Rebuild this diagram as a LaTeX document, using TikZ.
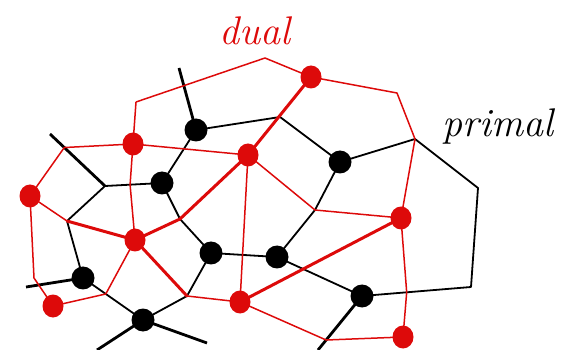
\documentclass[tikz,border=0pt]{standalone}
\usetikzlibrary{shapes.geometric,calc}
\definecolor{dualred}{RGB}{221,10,10}
\begin{document}
\begin{tikzpicture}[x=1pt,y=-1pt,
 primal/.style={line width=1.8pt,black,line join=round},
 stubline/.style={line width=2.8pt,black},
 dualthin/.style={line width=1.5pt,dualred,line join=round},
 dualthick/.style={line width=3pt,dualred,line join=round,line cap=round},
 bdot/.style={circle,fill=black,minimum size=23pt,inner sep=0pt},
 rdot/.style={ellipse,fill=dualred,minimum width=21pt,minimum height=23pt,inner sep=0pt},
 lbl/.style={font=\fontsize{40}{41}\selectfont\itshape,anchor=base,inner sep=0pt}]
\useasboundingbox (0,0) rectangle (563,350);
% primal vertices
\coordinate (b1) at (196,130);
\coordinate (b2) at (162,183);
\coordinate (b3) at (340,162);
\coordinate (b4) at (211,253);
\coordinate (b5) at (277,257);
\coordinate (b6) at (83,278);
\coordinate (b7) at (143,320);
\coordinate (b8) at (362,296);
\coordinate (p1) at (280,117);
\coordinate (p2) at (415,139);
\coordinate (p3) at (478,188);
\coordinate (p4) at (471,287);
\coordinate (p5) at (315,210);
\coordinate (p6) at (180,219);
\coordinate (p7) at (187,296);
\coordinate (p8) at (67,221);
\coordinate (p9) at (105,186);
\coordinate (s1) at (179,68);
\coordinate (s2) at (50,134);
\coordinate (s3) at (26,287);
\coordinate (s4) at (97,350);
\coordinate (s5) at (207,343);
\coordinate (s6) at (318,350);
% dual vertices
\coordinate (r1) at (311,77);
\coordinate (r2) at (133,144);
\coordinate (r3) at (248,155);
\coordinate (r4) at (30,196);
\coordinate (r5) at (135,240);
\coordinate (r6) at (401,218);
\coordinate (r7) at (53,306);
\coordinate (r8) at (240,302);
\coordinate (r9) at (403,337);
\coordinate (q1) at (136,102);
\coordinate (q2) at (265,58);
\coordinate (q3) at (397,93);
\coordinate (q5) at ($(p4)!0.59!(b8)$);
\coordinate (q6) at ($(b8)!0.815!(s6)$);
\coordinate (q8) at ($(s2)!0.26!(p9)$);
\coordinate (q9) at (34,278);
\coordinate (q10) at ($(b6)!0.38!(b7)$);
\coordinate (q11) at ($(p9)!0.44!(b2)$);
% primal edges
\draw[primal] (b1) -- (p1) -- (b3) -- (p2) -- (p3) -- (p4) -- (b8) -- (b5) -- (b4) -- (p6) -- (b2) -- (b1);
\draw[primal] (b2) -- (p9) -- (p8) -- (b6) -- (b7) -- (p7) -- (b4);
\draw[primal] (b3) -- (p5) -- (b5);
\draw[stubline] (b1) -- (s1);
\draw[stubline] (p9) -- (s2);
\draw[stubline] (b6) -- (s3);
\draw[stubline] (b7) -- (s4);
\draw[stubline] (b7) -- (s5);
\draw[stubline] (b8) -- (s6);
% dual edges
\draw[dualthin] (q1) -- (q2) -- (r1) -- (q3) -- (p2) -- (r6) -- (q5) -- (r9) -- (q6) -- (r8);
\draw[dualthin] (q1) -- (r2);
\draw[dualthin] (r2) -- (r3);
\draw[dualthin] (r2) -- (q8) -- (r4);
\draw[dualthin] (r2) -- (q11) -- (r5);
\draw[dualthin] (r4) -- (p8);
\draw[dualthin] (r4) -- (q9) -- (r7) -- (q10) -- (r5);
\draw[dualthin] (r3) -- (r8);
\draw[dualthin] (r3) -- (p5) -- (r6);
\draw[dualthin] (r8) -- (p7);
\draw[dualthick] (r1) -- (r3) -- (p6) -- (r5) -- (p8);
\draw[dualthick] (r5) -- (p7);
\draw[dualthick] (r8) -- (r6);
% dots
\foreach \n in {b1,b2,b3,b4,b5,b6,b7,b8} \node[bdot] (d\n) at (\n) {};
\foreach \n in {r1,r2,r3,r4,r5,r6,r7,r8,r9} \node[rdot] (d\n) at (\n) {};
% labels
\node[lbl,text=dualred] (dual) at (255,45) {dual};
\node[lbl] (primal) at (498,137) {primal};
\end{tikzpicture}
\end{document}
